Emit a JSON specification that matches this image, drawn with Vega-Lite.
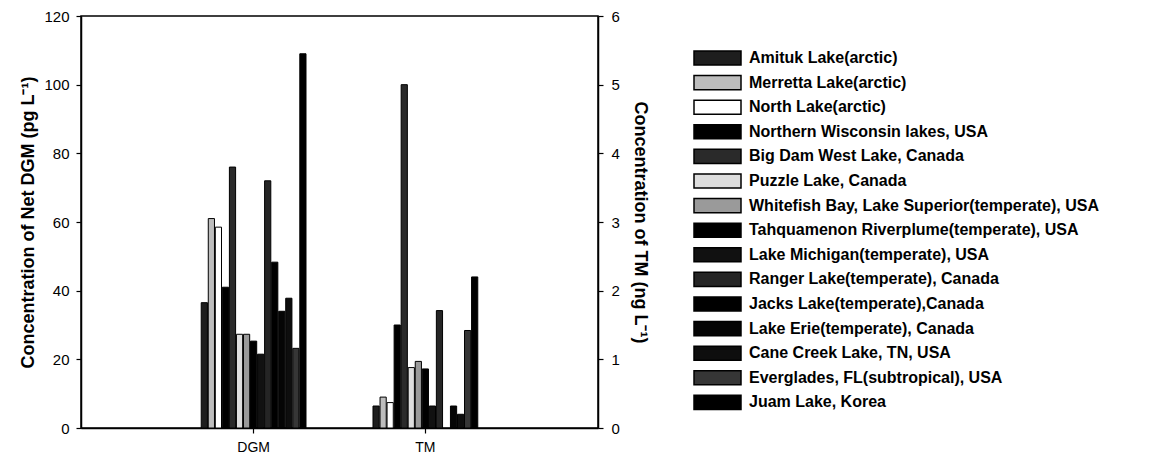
{
  "$schema": "https://vega.github.io/schema/vega-lite/v6.json",
  "width": 517,
  "height": 412,
  "autosize": {"type": "none"},
  "padding": {"left": 81, "top": 16, "right": 563, "bottom": 31},
  "background": "white",
  "config": {
    "font": "Liberation Sans",
    "view": {"stroke": "black", "strokeWidth": 1.5},
    "axis": {
      "grid": false,
      "domainColor": "black",
      "domainWidth": 1.5,
      "tickColor": "black",
      "tickWidth": 1.2,
      "tickSize": 5,
      "labelColor": "black",
      "labelFont": "Liberation Sans",
      "labelFontSize": 15,
      "titleFont": "Liberation Sans",
      "titleFontSize": 18,
      "titleFontWeight": "bold",
      "titleColor": "black"
    }
  },
  "data": {
    "values": [
      {"measure": "DGM", "lake": "Amituk Lake(arctic)", "value": 36.5},
      {"measure": "DGM", "lake": "Merretta Lake(arctic)", "value": 61},
      {"measure": "DGM", "lake": "North Lake(arctic)", "value": 58.5},
      {"measure": "DGM", "lake": "Northern Wisconsin lakes, USA", "value": 41},
      {"measure": "DGM", "lake": "Big Dam West Lake, Canada", "value": 76},
      {"measure": "DGM", "lake": "Puzzle Lake, Canada", "value": 27.3},
      {"measure": "DGM", "lake": "Whitefish Bay, Lake Superior(temperate), USA", "value": 27.3},
      {"measure": "DGM", "lake": "Tahquamenon Riverplume(temperate), USA", "value": 25.3},
      {"measure": "DGM", "lake": "Lake Michigan(temperate), USA", "value": 21.5},
      {"measure": "DGM", "lake": "Ranger Lake(temperate), Canada", "value": 72},
      {"measure": "DGM", "lake": "Jacks Lake(temperate),Canada", "value": 48.3},
      {"measure": "DGM", "lake": "Lake Erie(temperate), Canada", "value": 34},
      {"measure": "DGM", "lake": "Cane Creek Lake, TN, USA", "value": 37.8},
      {"measure": "DGM", "lake": "Everglades, FL(subtropical), USA", "value": 23.2},
      {"measure": "DGM", "lake": "Juam Lake, Korea", "value": 109},
      {"measure": "TM", "lake": "Amituk Lake(arctic)", "value": 0.32},
      {"measure": "TM", "lake": "Merretta Lake(arctic)", "value": 0.45},
      {"measure": "TM", "lake": "North Lake(arctic)", "value": 0.37},
      {"measure": "TM", "lake": "Northern Wisconsin lakes, USA", "value": 1.5},
      {"measure": "TM", "lake": "Big Dam West Lake, Canada", "value": 5.0},
      {"measure": "TM", "lake": "Puzzle Lake, Canada", "value": 0.88},
      {"measure": "TM", "lake": "Whitefish Bay, Lake Superior(temperate), USA", "value": 0.97},
      {"measure": "TM", "lake": "Tahquamenon Riverplume(temperate), USA", "value": 0.86},
      {"measure": "TM", "lake": "Lake Michigan(temperate), USA", "value": 0.32},
      {"measure": "TM", "lake": "Ranger Lake(temperate), Canada", "value": 1.71},
      {"measure": "TM", "lake": "Lake Erie(temperate), Canada", "value": 0.32},
      {"measure": "TM", "lake": "Cane Creek Lake, TN, USA", "value": 0.2},
      {"measure": "TM", "lake": "Everglades, FL(subtropical), USA", "value": 1.42},
      {"measure": "TM", "lake": "Juam Lake, Korea", "value": 2.2}
    ]
  },
  "encoding": {
    "x": {
      "field": "measure",
      "type": "nominal",
      "scale": {"domain": ["DGM", "TM"], "paddingInner": 0.39, "paddingOuter": 0.7},
      "axis": {"title": null, "labelAngle": 0, "labelPadding": 7, "labelFontSize": 14}
    },
    "xOffset": {
      "field": "lake",
      "type": "nominal",
      "scale": {
        "domain": ["Amituk Lake(arctic)", "Merretta Lake(arctic)", "North Lake(arctic)", "Northern Wisconsin lakes, USA", "Big Dam West Lake, Canada", "Puzzle Lake, Canada", "Whitefish Bay, Lake Superior(temperate), USA", "Tahquamenon Riverplume(temperate), USA", "Lake Michigan(temperate), USA", "Ranger Lake(temperate), Canada", "Jacks Lake(temperate),Canada", "Lake Erie(temperate), Canada", "Cane Creek Lake, TN, USA", "Everglades, FL(subtropical), USA", "Juam Lake, Korea"],
        "paddingInner": 0.12,
        "paddingOuter": 0
      }
    },
    "color": {
      "field": "lake",
      "type": "nominal",
      "scale": {
        "domain": ["Amituk Lake(arctic)", "Merretta Lake(arctic)", "North Lake(arctic)", "Northern Wisconsin lakes, USA", "Big Dam West Lake, Canada", "Puzzle Lake, Canada", "Whitefish Bay, Lake Superior(temperate), USA", "Tahquamenon Riverplume(temperate), USA", "Lake Michigan(temperate), USA", "Ranger Lake(temperate), Canada", "Jacks Lake(temperate),Canada", "Lake Erie(temperate), Canada", "Cane Creek Lake, TN, USA", "Everglades, FL(subtropical), USA", "Juam Lake, Korea"],
        "range": ["#1e1e1e", "#bdbdbd", "#ffffff", "#000000", "#2a2a2a", "#dedede", "#9a9a9a", "#000000", "#111111", "#252525", "#000000", "#050505", "#0e0e0e", "#363636", "#000000"]
      },
      "legend": {
        "orient": "none",
        "legendX": 612,
        "legendY": 33,
        "title": null,
        "padding": 0,
        "symbolType": "M-1,-0.3H1V0.3H-1Z",
        "symbolSize": 2209,
        "symbolStrokeColor": "black",
        "symbolStrokeWidth": 1.5,
        "symbolOpacity": 1,
        "clipHeight": 18,
        "rowPadding": 6.6,
        "labelFont": "Liberation Sans",
        "labelFontSize": 16,
        "labelFontWeight": "bold",
        "labelColor": "black",
        "labelLimit": 600,
        "labelOffset": 7
      }
    }
  },
  "layer": [
    {
      "transform": [{"filter": "datum.measure === 'DGM'"}],
      "mark": {"type": "bar", "stroke": "black", "strokeWidth": 1, "opacity": 1},
      "encoding": {
        "y": {
          "field": "value",
          "type": "quantitative",
          "scale": {"domain": [0, 120], "nice": false},
          "axis": {"title": "Concentration of Net DGM (pg L⁻¹)", "values": [0, 20, 40, 60, 80, 100, 120], "labelPadding": 7, "titlePadding": 6}
        }
      }
    },
    {
      "transform": [{"filter": "datum.measure === 'TM'"}],
      "mark": {"type": "bar", "stroke": "black", "strokeWidth": 1, "opacity": 1},
      "encoding": {
        "y": {
          "field": "value",
          "type": "quantitative",
          "scale": {"domain": [0, 6], "nice": false},
          "axis": {"title": "Concentration of TM (ng L⁻¹)", "orient": "right", "values": [0, 1, 2, 3, 4, 5, 6], "labelPadding": 8, "titlePadding": 11}
        }
      }
    }
  ],
  "resolve": {"scale": {"y": "independent"}}
}
